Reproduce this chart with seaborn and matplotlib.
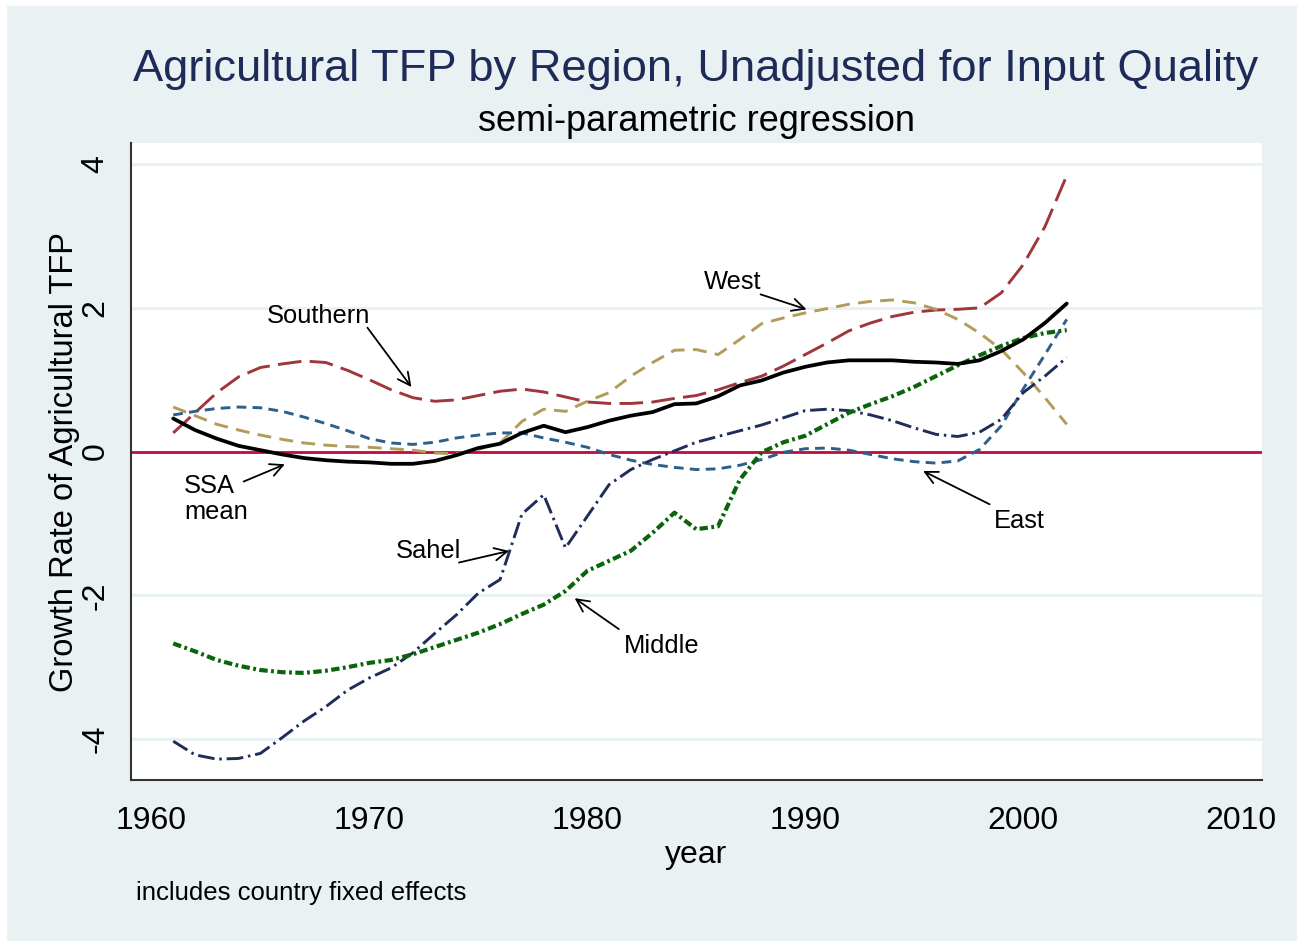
import matplotlib
matplotlib.use("Agg")
import matplotlib.pyplot as plt
from matplotlib.patches import Rectangle
import seaborn as sns

# === Datos ===
years = list(range(1961, 2003))

ssa_mean = [0.46, 0.30, 0.18, 0.08, 0.02, -0.04, -0.09, -0.12, -0.14, -0.15,
            -0.17, -0.17, -0.13, -0.05, 0.05, 0.11, 0.26, 0.36, 0.27, 0.34,
            0.43, 0.50, 0.55, 0.66, 0.67, 0.77, 0.92, 0.99, 1.10, 1.18,
            1.24, 1.27, 1.27, 1.27, 1.25, 1.24, 1.22, 1.27, 1.40, 1.56,
            1.79, 2.06]
southern = [0.26, 0.54, 0.82, 1.04, 1.17, 1.22, 1.26, 1.24, 1.13, 1.00,
            0.86, 0.75, 0.70, 0.72, 0.78, 0.84, 0.87, 0.83, 0.76, 0.69,
            0.67, 0.67, 0.69, 0.74, 0.78, 0.86, 0.96, 1.05, 1.19, 1.35,
            1.51, 1.68, 1.79, 1.88, 1.94, 1.97, 1.98, 2.00, 2.21, 2.60,
            3.13, 3.84]
west = [0.62, 0.50, 0.38, 0.30, 0.23, 0.17, 0.12, 0.09, 0.07, 0.06,
        0.04, 0.02, -0.02, -0.03, 0.03, 0.12, 0.42, 0.59, 0.56, 0.70,
        0.82, 1.05, 1.24, 1.41, 1.42, 1.35, 1.56, 1.78, 1.86, 1.93,
        1.99, 2.05, 2.09, 2.11, 2.07, 1.98, 1.84, 1.65, 1.42, 1.10,
        0.75, 0.38]
east = [0.51, 0.56, 0.60, 0.62, 0.61, 0.56, 0.48, 0.39, 0.29, 0.18,
        0.12, 0.10, 0.13, 0.19, 0.23, 0.26, 0.26, 0.19, 0.13, 0.06,
        -0.04, -0.12, -0.18, -0.22, -0.25, -0.24, -0.19, -0.11, -0.01, 0.04,
        0.05, 0.02, -0.04, -0.10, -0.14, -0.16, -0.13, 0.03, 0.36, 0.87,
        1.35, 1.84]
sahel = [-4.03, -4.22, -4.28, -4.27, -4.20, -3.98, -3.75, -3.55, -3.32, -3.15,
         -3.01, -2.80, -2.53, -2.27, -1.97, -1.78, -0.87, -0.60, -1.34, -0.90,
         -0.46, -0.25, -0.11, 0.01, 0.13, 0.21, 0.29, 0.37, 0.47, 0.57,
         0.59, 0.57, 0.51, 0.43, 0.33, 0.24, 0.21, 0.27, 0.45, 0.82,
         1.05, 1.31]
middle = [-2.67, -2.78, -2.90, -2.98, -3.04, -3.07, -3.08, -3.05, -3.00, -2.94,
          -2.90, -2.82, -2.72, -2.62, -2.52, -2.40, -2.26, -2.13, -1.94, -1.66,
          -1.52, -1.38, -1.13, -0.85, -1.08, -1.04, -0.39, -0.01, 0.13, 0.22,
          0.38, 0.54, 0.66, 0.77, 0.90, 1.05, 1.20, 1.34, 1.47, 1.58,
          1.65, 1.69]

x_ticks = [1960, 1970, 1980, 1990, 2000, 2010]
y_ticks = [-4, -2, 0, 2, 4]

# === Estilo ===
sns.set_style("white")
plt.rcParams["font.family"] = ["Liberation Sans", "DejaVu Sans"]
plt.rcParams["axes.unicode_minus"] = False
plt.rcParams["lines.scale_dashes"] = False

BG = "#E9F1F2"
NAVY = "#1E2B58"

fig = plt.figure(figsize=(12.97, 9.41), dpi=100, facecolor="white")
fig.patches.append(Rectangle((7 / 1297, 0), 1, 1 - 6 / 941, transform=fig.transFigure,
                             facecolor=BG, edgecolor="none", zorder=-10))
ax = fig.add_axes([0.1008, 0.1711, 0.8722, 0.6766])
ax.set_zorder(1)
ax.set_facecolor("white")

# rejilla horizontal del color del fondo
for yv in y_ticks:
    ax.axhline(yv, color=BG, lw=2.2, zorder=1)
ax.axhline(0, color="#C30A3E", lw=2.0, zorder=2)

series = [
    (southern, "#A0363C", 2.1, (0, (17, 6))),
    (west, "#B39B5B", 2.1, (0, (10, 6))),
    (east, "#2E5E8A", 2.1, (0, (7, 4.5))),
    (sahel, "#1F2D5A", 2.1, (0, (12, 3.5, 1.8, 3.5))),
    (middle, "#0A640A", 3.0, (0, (6, 2.5, 2, 2.5))),
    (ssa_mean, "black", 2.7, "-"),
]
for vals, color, lw, ls in series:
    sns.lineplot(x=years, y=vals, ax=ax, color=color, linewidth=lw,
                 linestyle=ls, zorder=3)

# === Etiquetas con flechas ===
labels = [
    ("Southern", (1965.28, 1.794), (1969.91, 1.725), (1971.93, 0.898)),
    ("West", (1985.35, 2.267), (1987.95, 2.188), (1990.06, 1.979)),
    ("SSA", (1961.50, -0.570), (1964.23, -0.417), (1966.12, -0.177)),
    ("mean", (1961.50, -0.942), None, None),
    ("Sahel", (1971.21, -1.474), (1974.11, -1.544), (1976.41, -1.382)),
    ("Middle", (1981.68, -2.805), (1981.45, -2.471), (1979.42, -2.04)),
    ("East", (1998.64, -1.057), (1998.46, -0.733), (1995.41, -0.27)),
]
for txt, pos, tail, head in labels:
    ax.text(pos[0], pos[1], txt, fontsize=18.4, ha="left", va="baseline",
            color="black", zorder=5)
    if tail is not None:
        ax.annotate("", xy=head, xytext=tail,
                    arrowprops=dict(arrowstyle="->,head_length=0.6,head_width=0.3",
                                    lw=1.3, color="black", shrinkA=0, shrinkB=0,
                                    mutation_scale=15), zorder=5)

# === Ejes ===
ax.set_xlim(1959.05, 2010.96)
ax.set_ylim(-4.57, 4.29)
ax.set_xticks(x_ticks)
ax.set_yticks(y_ticks)
ax.set_yticklabels([str(v) for v in y_ticks])
ax.tick_params(axis="both", direction="out", length=9.5, width=1.2,
               color="#333333", labelsize=23, labelcolor="black")
ax.tick_params(axis="x", pad=9)
ax.tick_params(axis="y", pad=5, labelrotation=90)
for lbl in ax.get_yticklabels():
    lbl.set_va("center")

for side in ["top", "right"]:
    ax.spines[side].set_visible(False)
for side in ["left", "bottom"]:
    ax.spines[side].set_color("#333333")
    ax.spines[side].set_linewidth(1.5)

ax.set_xlabel("year", fontsize=23, labelpad=3, color="black")
ax.set_ylabel("Growth Rate of Agricultural TFP", fontsize=23.5, labelpad=0.5,
              color="black")

fig.text(696 / 1297, 860 / 941, "Agricultural TFP by Region, Unadjusted for Input Quality",
         ha="center", va="baseline", fontsize=32.6, color=NAVY)
fig.text(696 / 1297, 810 / 941, "semi-parametric regression",
         ha="center", va="baseline", fontsize=26, color="black")
fig.text(136 / 1297, 41 / 941, "includes country fixed effects",
         ha="left", va="baseline", fontsize=18.5, color="black")

fig.savefig("out.png", dpi=100, facecolor=fig.get_facecolor())
